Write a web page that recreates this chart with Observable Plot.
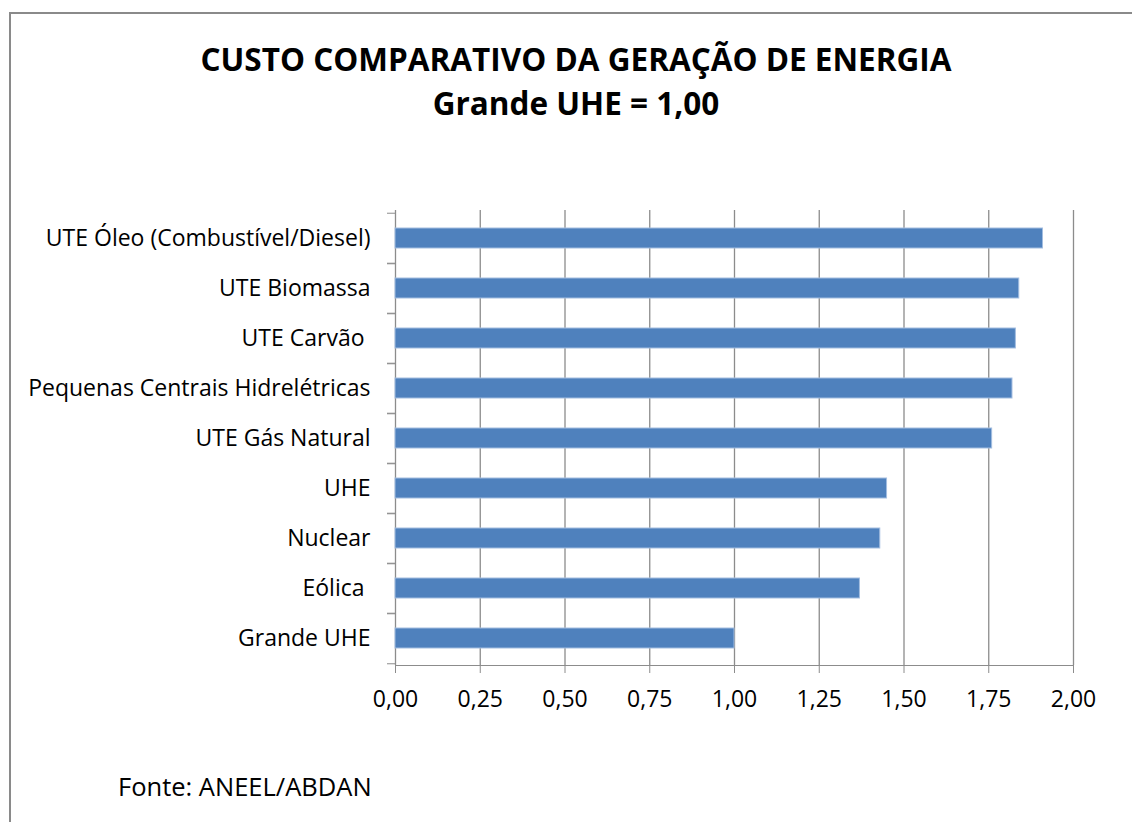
<!DOCTYPE html>
<html><head><meta charset="utf-8">
<script src="https://cdn.jsdelivr.net/npm/d3@7"></script>
<script src="https://cdn.jsdelivr.net/npm/@observablehq/plot@0.6"></script>
<style>
body{margin:0;background:#fff;}
#wrap{position:relative;width:1132px;height:822px;overflow:hidden;background:#fff;font-family:"Open Sans",sans-serif;color:#000;}
#frame{position:absolute;left:9px;top:12px;width:1200px;height:900px;border-left:2px solid #8a8a8a;border-top:2px solid #8a8a8a;}
#title{position:absolute;left:0;width:1152px;top:37px;text-align:center;font-weight:700;font-size:31.5px;line-height:44px;}
#chart{position:absolute;left:0;top:0;}
#caption{position:absolute;left:118px;top:770px;font-size:25.5px;line-height:32px;}
#chart svg text{fill:#000;white-space:pre;}
</style>
</head><body>
<div id="wrap">
  <div id="frame"></div>
  <div id="title">CUSTO COMPARATIVO DA GERAÇÃO DE ENERGIA<br>Grande UHE = 1,00</div>
  <div id="chart"></div>
  <div id="caption">Fonte: ANEEL/ABDAN</div>
</div>
<script>
const categories = ["UTE Óleo (Combustível/Diesel)", "UTE Biomassa", "UTE Carvão ", "Pequenas Centrais Hidrelétricas", "UTE Gás Natural", "UHE", "Nuclear", "Eólica ", "Grande UHE"];
const values = [1.91, 1.84, 1.83, 1.82, 1.76, 1.45, 1.43, 1.37, 1.00];
const xTicks = [0, 0.25, 0.5, 0.75, 1, 1.25, 1.5, 1.75, 2];

const data = categories.map((c, i) => ({category: c, value: values[i]}));
const H = 740, mt = 210, mb = 75;
const step = (H - mt - mb) / categories.length;
const gray = "#8c8c8c";

const chart = Plot.plot({
  width: 1132, height: H,
  marginTop: mt, marginBottom: mb, marginLeft: 395, marginRight: 59,
  style: {fontFamily: '"Open Sans", sans-serif', fontSize: "23px", color: gray, background: "transparent", overflow: "visible"},
  x: {domain: [0, 2], ticks: xTicks, tickSize: 8, tickPadding: 17, line: true, label: null,
      tickFormat: d => d.toFixed(2).replace(".", ",")},
  y: {domain: categories, paddingInner: 0.6, paddingOuter: 0.3, label: null},
  marks: [
    Plot.ruleX(xTicks, {stroke: gray, strokeWidth: 1.3}),
    Plot.barX(data, {x: "value", y: "category", fill: "#4F81BD", stroke: "#a3bde0", strokeWidth: 1}),
    Plot.axisY({tickSize: 0, tickPadding: 25, label: null}),
    Plot.axisY({tickSize: 8, tickFormat: () => "", dy: -step / 2, stroke: gray, label: null}),
    Plot.axisY({tickSize: 8, tickFormat: () => "", dy: step / 2, stroke: gray, label: null})
  ]
});
document.getElementById("chart").appendChild(chart);
</script>
</body></html>
